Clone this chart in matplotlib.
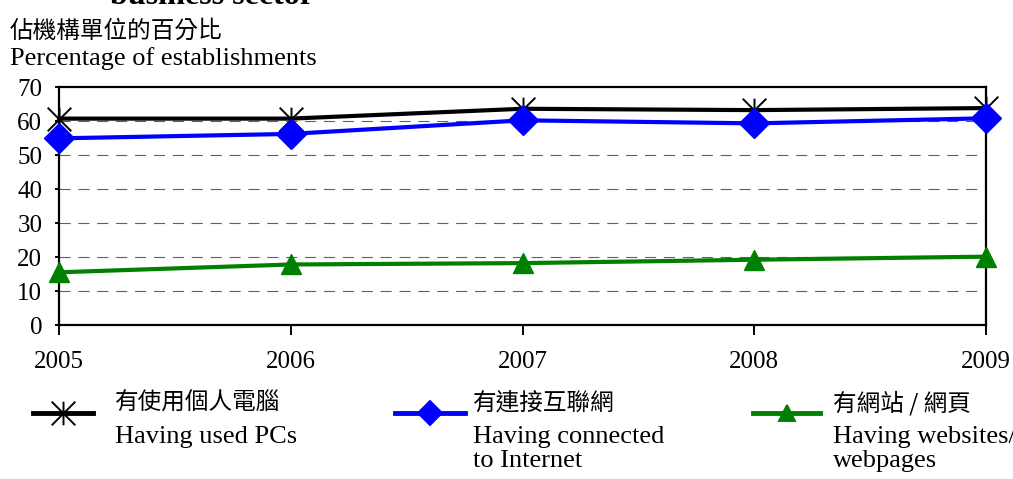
import matplotlib
matplotlib.use("Agg")
import matplotlib.pyplot as plt
from matplotlib.path import Path
from matplotlib.lines import Line2D

plt.rcParams['font.family'] = ['Liberation Serif', 'Noto Sans CJK TC']

# data
years = [2005, 2006, 2007, 2008, 2009]
used_pcs = [60.7, 60.7, 63.6, 63.2, 63.8]
internet = [54.9, 56.2, 60.2, 59.3, 60.8]
websites = [15.5, 17.8, 18.2, 19.2, 20.1]

labels_zh = ['有使用個人電腦', '有連接互聯網', '有網站 / 網頁']
labels_en = ['Having used PCs', 'Having connected\nto Internet', 'Having websites/\nwebpages']
colors = ['black', '#0000ff', '#008000']

# asterisk marker: vertical stroke plus X
star = Path([(0, -1), (0, 1), (-1, -1), (1, 1), (-1, 1), (1, -1)],
            [Path.MOVETO, Path.LINETO] * 3)
markers = [star, 'D', '^']
msizes = [17, 15, 15]

W, H = 1013, 479
fig = plt.figure(figsize=(W / 100, H / 100), dpi=100)
ax = fig.add_axes([59 / W, 1 - 325 / H, (986 - 59) / W, (325 - 87) / H])

series = [used_pcs, internet, websites]
for vals, c, m, ms in zip(series, colors, markers, msizes):
    if m is star:
        ax.plot(years, vals, color=c, lw=3, marker=m, ms=ms,
                mfc='none', mec=c, mew=1.4, clip_on=False, zorder=3)
    else:
        ax.plot(years, vals, color=c, lw=3, marker=m, ms=ms,
                mfc=c, mec=c, clip_on=False, zorder=3)

ax.set_xlim(2005, 2009)
ax.set_ylim(0, 70)
ax.set_xticks(years)
ax.set_yticks(range(0, 71, 10))
for y in range(10, 70, 10):
    ax.axhline(y, color='#606060', lw=0.8, ls=(0, (10, 7)), zorder=1)

for s in ax.spines.values():
    s.set_linewidth(1.6)
    s.set_color('black')
ax.tick_params(axis='x', direction='out', length=7, width=1.4, pad=12, labelsize=18)
ax.tick_params(axis='y', direction='out', length=3, width=1.4, pad=9, labelsize=18)

# header texts
fig.text(212 / W, 1 - 4 / H, 'business sector', ha='center', va='baseline',
         fontsize=23, fontweight='bold')
fig.text(10 / W, 1 - 31 / H, '佔機構單位的百分比', ha='left', va='center',
         fontsize=17, family=['Noto Sans CJK TC', 'Liberation Serif'])
fig.text(10 / W, 1 - 65 / H, 'Percentage of establishments', ha='left',
         va='baseline', fontsize=19)

# legend, drawn by hand
hx = [(33, 93), (395, 465), (753, 820)]
tx = [115, 473, 833]
for i in range(3):
    x0, x1 = hx[i]
    yl = 1 - 413 / H
    fig.add_artist(Line2D([x0 / W, (x0 + x1) / 2 / W, x1 / W], [yl, yl, yl],
                          transform=fig.transFigure, color=colors[i], lw=3.5,
                          marker=markers[i], markevery=[1],
                          ms=msizes[i] - (0 if i == 0 else 3),
                          mfc='none' if i == 0 else colors[i],
                          mec=colors[i], mew=1.4))
    fig.text(tx[i] / W, 1 - 403 / H, labels_zh[i], ha='left', va='center',
             fontsize=17, family=['Noto Sans CJK TC', 'Liberation Serif'])
    fig.text(tx[i] / W, 1 - 426 / H, labels_en[i], ha='left', va='top',
             fontsize=19, linespacing=1.12)

fig.savefig('out.png', dpi=100)
